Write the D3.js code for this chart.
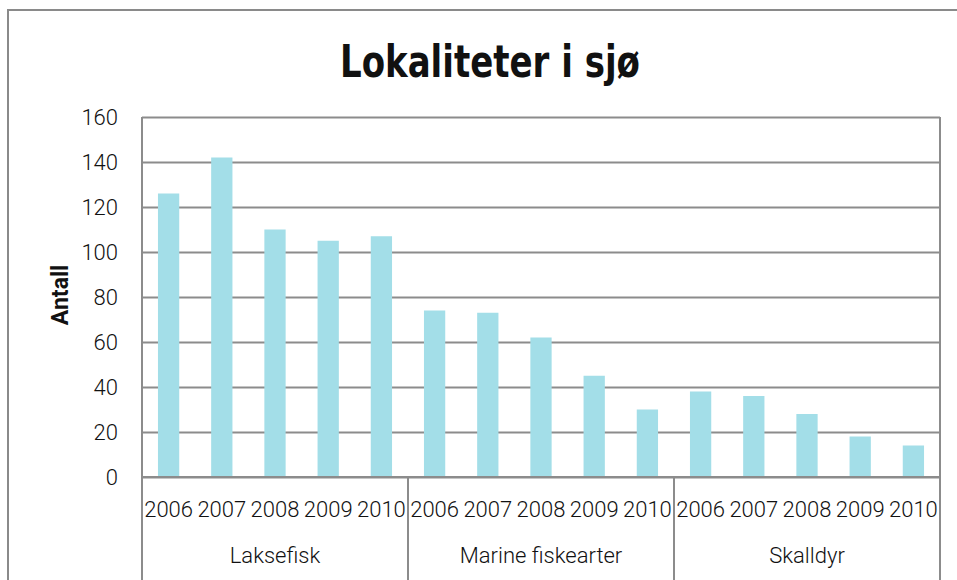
<!DOCTYPE html>
<html>
<head>
<meta charset="utf-8">
<script src="https://cdn.jsdelivr.net/npm/d3@7"></script>
<style>
  body { margin: 0; background: #fff; }
  text { font-family: Roboto, 'Open Sans', sans-serif; fill: #111; }
</style>
</head>
<body>
<div id="chart"></div>
<script>
// data
const groups = ['Laksefisk', 'Marine fiskearter', 'Skalldyr'];
const years = ['2006', '2007', '2008', '2009', '2010'];
const laksefisk = [126, 142, 110, 105, 107];
const marine = [74, 73, 62, 45, 30];
const skalldyr = [38, 36, 28, 18, 14];
const yTicks = [0, 20, 40, 60, 80, 100, 120, 140, 160];

const seriesByGroup = [laksefisk, marine, skalldyr];
let data = [];
groups.forEach(function(g, gi) {
    years.forEach(function(yr, yi) {
        data.push({ group: g, year: yr, key: g + '|' + yr, value: seriesByGroup[gi][yi] });
    });
});

let W = 957, H = 580;
let margin = { top: 117, right: 17, bottom: 103, left: 142 },
    width = W - margin.left - margin.right,
    height = H - margin.top - margin.bottom;

let svg = d3.select('#chart').append('svg')
    .attr('width', W)
    .attr('height', H);

// outer frame
svg.append('rect')
    .attr('x', 8).attr('y', 10)
    .attr('width', W + 20).attr('height', H + 20)
    .attr('fill', 'none')
    .attr('stroke', '#8a8a8a')
    .attr('stroke-width', 2);

svg.append('text')
    .attr('x', 340).attr('y', 77)
    .attr('textLength', 300)
    .attr('lengthAdjust', 'spacingAndGlyphs')
    .style('font-family', "'DejaVu Sans Condensed', 'DejaVu Sans', sans-serif")
    .style('font-weight', 'bold')
    .style('font-size', '44px')
    .text('Lokaliteter i sjø');

let g = svg.append('g')
    .attr('transform', 'translate(' + margin.left + ',' + margin.top + ')');

const x = d3.scaleBand()
    .domain(data.map(d => d.key))
    .range([0, width])
    .paddingInner(0.6)
    .paddingOuter(0.3);

const y = d3.scaleLinear()
    .domain([0, 160])
    .range([height, 0]);

// gridlines + y labels
g.append('g')
    .call(d3.axisLeft(y).tickValues(yTicks).tickSize(-width).tickPadding(24))
    .call(s => s.select('.domain').remove())
    .call(s => s.selectAll('line').attr('stroke', '#8c8c8c').attr('stroke-width', 2))
    .call(s => s.selectAll('text').style('font-size', '22px').style('font-weight', 300).attr('fill', '#111'));

// left / right frame of plot
g.append('line').attr('x1', 0).attr('x2', 0).attr('y1', 0).attr('y2', height)
    .attr('stroke', '#8c8c8c').attr('stroke-width', 2);
g.append('line').attr('x1', width).attr('x2', width).attr('y1', 0).attr('y2', height)
    .attr('stroke', '#8c8c8c').attr('stroke-width', 2);

g.selectAll('.bar')
    .data(data)
    .enter().append('rect')
    .attr('class', 'bar')
    .attr('x', d => x(d.key))
    .attr('y', d => y(d.value))
    .attr('width', x.bandwidth())
    .attr('height', d => height - y(d.value))
    .attr('fill', '#a3dee8');

// baseline on top of bars
g.append('line').attr('x1', 0).attr('x2', width).attr('y1', height).attr('y2', height)
    .attr('stroke', '#8c8c8c').attr('stroke-width', 2);

// year labels
g.selectAll('.yr')
    .data(data)
    .enter().append('text')
    .attr('class', 'yr')
    .attr('x', d => x(d.key) + x.bandwidth() / 2)
    .attr('y', height + 40)
    .attr('text-anchor', 'middle')
    .style('font-size', '22px')
    .style('font-weight', 300)
    .text(d => d.year);

// group separators and labels
const step = x.step();
const bounds = [0, 5, 10, 15].map(i => i * step);
g.selectAll('.sep')
    .data(bounds)
    .enter().append('line')
    .attr('x1', d => d).attr('x2', d => d)
    .attr('y1', height).attr('y2', H)
    .attr('stroke', '#8c8c8c').attr('stroke-width', 2);

g.selectAll('.grp')
    .data(groups)
    .enter().append('text')
    .attr('x', (d, i) => (bounds[i] + bounds[i + 1]) / 2)
    .attr('y', height + 86)
    .attr('text-anchor', 'middle')
    .style('font-size', '22px')
    .style('font-weight', 300)
    .text(d => d);

// y axis title
svg.append('text')
    .attr('transform', 'translate(68,295) rotate(-90)')
    .attr('text-anchor', 'middle')
    .style('font-size', '23px')
    .style('font-weight', 'bold')
    .text('Antall');
</script>
</body>
</html>
